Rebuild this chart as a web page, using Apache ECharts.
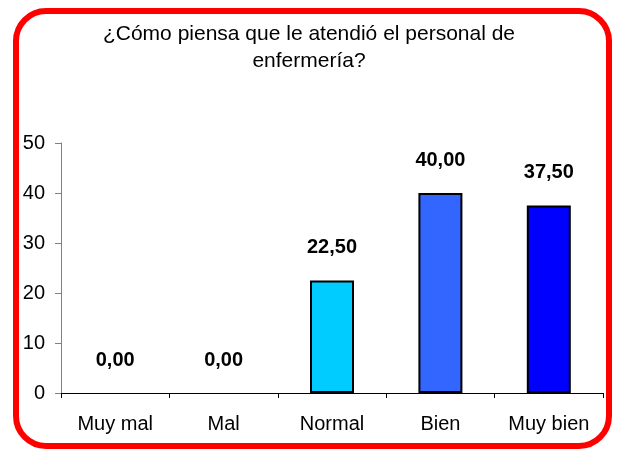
<!DOCTYPE html>
<html>
<head>
<meta charset="utf-8">
<script src="https://cdn.jsdelivr.net/npm/echarts@6/dist/echarts.min.js"></script>
<style>
  html, body { margin: 0; padding: 0; background: #fff; }
  #chart { width: 618px; height: 453px; }
</style>
</head>
<body>
<div id="chart"></div>
<script>
const categories = ['Muy mal', 'Mal', 'Normal', 'Bien', 'Muy bien'];
const values = [0, 0, 22.5, 40, 37.5];
const barColors = ['#00CCFF', '#00CCFF', '#00CCFF', '#3366FF', '#0000FF'];
const yTicks = [0, 10, 20, 30, 40, 50];

const font = "'Liberation Sans', Arial, sans-serif";

let chart = echarts.init(document.getElementById('chart'));
const option = {
    animation: false,
    title: {
        text: '¿Cómo piensa que le atendió el personal de\nenfermería?',
        left: 'center',
        top: 16,
        textStyle: {
            fontFamily: font,
            fontSize: 21,
            fontWeight: 'normal',
            color: '#000',
            lineHeight: 27
        }
    },
    grid: {
        left: 61,
        right: 15,
        top: 143,
        bottom: 60
    },
    xAxis: {
        type: 'category',
        data: categories,
        axisLine: { lineStyle: { color: '#000', width: 1 } },
        axisTick: { show: true, length: 5, lineStyle: { color: '#000' } },
        axisLabel: {
            color: '#000',
            fontFamily: font,
            fontSize: 20,
            margin: 21
        }
    },
    yAxis: {
        type: 'value',
        min: yTicks[0],
        max: yTicks[yTicks.length - 1],
        interval: 10,
        splitLine: { show: false },
        axisLine: { show: true, lineStyle: { color: '#808080', width: 1 } },
        axisTick: { show: true, length: 6, lineStyle: { color: '#808080' } },
        axisLabel: {
            color: '#000',
            fontFamily: font,
            fontSize: 20,
            margin: 16
        }
    },
    series: [
        {
            type: 'bar',
            barWidth: 44,
            data: values.map((v, i) => ({
                value: v,
                itemStyle: { color: barColors[i], borderWidth: v === 0 ? 0 : 2 }
            })),
            itemStyle: {
                borderColor: '#000',
                borderWidth: 2
            },
            label: {
                show: true,
                position: 'top',
                distance: 23,
                fontFamily: font,
                fontSize: 20,
                fontWeight: 'bold',
                color: '#000',
                formatter: p => p.value.toFixed(2).replace('.', ',')
            }
        }
    ],
    graphic: [
        {
            type: 'rect',
            z: 100,
            shape: { x: 16, y: 11, width: 593, height: 435, r: 30 },
            style: { fill: 'none', stroke: '#FF0000', lineWidth: 6 }
        }
    ]
};
chart.setOption(option);
</script>
</body>
</html>
